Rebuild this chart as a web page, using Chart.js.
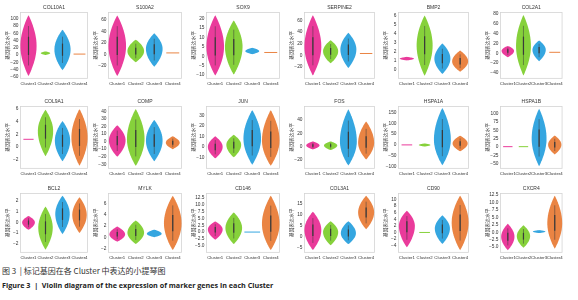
<!DOCTYPE html>
<html>
<head>
<meta charset="utf-8">
<script src="https://cdn.jsdelivr.net/npm/chart.js@4.4.1/dist/chart.umd.min.js"></script>
<style>
  body { margin: 0; background: #fff; width: 578px; height: 300px; position: relative; overflow: hidden; }
  canvas { position: absolute; }
  .cap { position: absolute; left: 2px; white-space: nowrap; color: #333; }
  .zh { top: 265px; font: 8px "Noto Sans CJK SC", sans-serif; }
  .en { top: 280px; font: bold 7.2px "Open Sans", "Noto Sans", sans-serif; color: #222; }
</style>
</head>
<body>
<div class="cap zh">图 3 &nbsp;|&nbsp;标记基因在各 Cluster 中表达的小提琴图</div>
<div class="cap en">Figure 3 &nbsp;|&nbsp; Violin diagram of the expression of marker genes in each Cluster</div>
<script>
const genes = ['COL10A1', 'S100A2', 'SOX9', 'SERPINE2', 'BMP2', 'COL2A1',
  'COL9A1', 'COMP', 'JUN', 'FOS', 'HSPA1A', 'HSPA1B',
  'BCL2', 'MYLK', 'CD146', 'COL3A1', 'CD90', 'CXCR4']
const clusters = ['Cluster1', 'Cluster2', 'Cluster3', 'Cluster4']
const yLabel = '基因表达水平'

// axis ranges and tick values per gene
const yMin = [-66, -42, -12, -41, -1.05, -52, -3.5, -36, -21, -33, -110, -65, -2.85, -2.8, -7.6, -7.5, -6.2, -6.9]
const yMax = [119, 74, 23.5, 75, 6.4, 84, 6.5, 47, 39, 61, 180, 122, 2.75, 7.9, 14.3, 19.9, 12, 13.1]
const yTicks = [
  [-60, -40, -20, 0, 20, 40, 60, 80, 100],
  [-20, 0, 20, 40, 60],
  [-10, -5, 0, 5, 10, 15, 20],
  [-20, 0, 20, 40, 60],
  [0, 1, 2, 3, 4, 5, 6],
  [-40, -20, 0, 20, 40, 60, 80],
  [-2, 0, 2, 4, 6],
  [-30, -20, -10, 0, 10, 20, 30, 40],
  [-10, 0, 10, 20, 30],
  [-20, 0, 20, 40],
  [-100, -50, 0, 50, 100, 150],
  [-50, -25, 0, 25, 50, 75, 100],
  [-2, -1, 0, 1, 2],
  [-2, 0, 2, 4, 6],
  [-5, -2.5, 0, 2.5, 5, 7.5, 10, 12.5],
  [-5, 0, 5, 10, 15],
  [-4, -2, 0, 2, 4, 6, 8, 10],
  [-5, -2.5, 0, 2.5, 5, 7.5, 10, 12.5],
]

// violin extents: lowest value, densest value, highest value, per cluster
const lows = [
  [-58, 0, -42, 1], [-37, -13, -21, 1.5], [-10.2, -9.7, 1.1, 1.6], [-35, -14, -22, 2],
  [1.0, -0.7, -0.5, -0.25], [-8, -45, -16, 1.5],
  [1.1, -1.5, -2.3, -3], [-20, -32, -26, -10], [-11, -10, -17, -18], [-4, -5, -28, -19],
  [-3, -7, -93, -29], [0.5, 0.5, -57, -22],
  [-0.7, -2.55, -1.1, -1], [-0.8, -1.2, 0, -2.3], [-2.8, -4.4, -0.05, -6.6], [-6.2, -4, -3.5, 3.3],
  [-4.5, -0.05, -3.5, -5.4], [-6, -5.2, -0.3, -5.5],
]
const mids = [
  [25, 5, 15, 2.5], [15, 6, 10, 3], [5, 5, 2.7, 2], [15, 7, 10, 3],
  [1.2, 2.7, 1.2, 0.9], [5, 15, 7, 2],
  [1.2, 2.5, 1, 1.5], [1.5, 3.5, 1.5, -1.5], [0, 2, 8, 6], [2, 2, 8, 6],
  [0, 0, 25, 7], [1, 1, 25, 7],
  [0, -0.5, 0.8, 0.7], [0.5, 0.8, 0.6, 2.5], [1, 1.5, 0, 3], [3, 2, 1.5, 11],
  [2, 0, 1.2, 3], [-1.5, -1.3, 0.2, 3],
]
const highs = [
  [110, 10, 70, 4], [68, 26, 37, 4.5], [21.8, 19, 4.5, 2.4], [69.5, 26, 39, 4],
  [1.4, 6.0, 2.9, 2.1], [15, 78, 26, 2.5],
  [1.3, 5.9, 4.1, 6], [21.5, 43, 28.6, 7], [10, 11.5, 35, 35], [8, 8, 56, 38],
  [4, 7, 171, 43], [1.5, 1.5, 114, 34],
  [0.6, 1.48, 2.5, 2.35], [1.9, 3, 1.35, 7.4], [3.9, 7.2, 0.05, 13.3], [11.3, 7, 7, 18.6],
  [6.6, 0.05, 5.2, 11.2], [2.8, 2.3, 0.7, 12.2],
]
// relative density peak (share of the category slot)
const widths = [
  [0.95, 0.55, 0.95, 0.7], [0.95, 0.9, 0.9, 0.7], [0.95, 0.95, 0.75, 0.7], [0.95, 0.85, 0.9, 0.7],
  [0.8, 0.9, 0.9, 0.9], [0.8, 0.95, 0.85, 0.7],
  [0.6, 0.9, 0.9, 0.95], [0.9, 0.95, 0.9, 0.75], [0.8, 0.8, 0.95, 0.95], [0.75, 0.75, 0.95, 0.9],
  [0.6, 0.65, 0.95, 0.85], [0.6, 0.6, 0.95, 0.85],
  [0.75, 0.85, 0.85, 0.85], [0.85, 0.9, 0.8, 0.95], [0.8, 0.9, 0.85, 0.95], [0.95, 0.85, 0.85, 0.9],
  [0.9, 0.6, 0.85, 0.95], [0.85, 0.85, 0.8, 0.95],
]
const colors = ['#ea3b9b', '#86d13b', '#35a6e0', '#ea8443']

const FONT = '"Liberation Sans", "Noto Sans CJK SC", sans-serif'
// panel grid: plot box edges per column, canvas rows
const boxLeft = [20, 108, 206, 304, 398, 500]
const boxRight = [88, 182, 280, 375, 469, 563]
const rowTop = [0, 92, 182]
const rowPadTop = [12, 14, 11]
const rowH = [88, 86, 80]
const AXIS_W = 15

const violinPlugin = {
  id: 'violin',
  beforeDatasetsDraw(chart) {
    const { ctx, chartArea: a } = chart
    const x = chart.scales.x
    const y = chart.scales.y
    const ds = chart.data.datasets[0]
    ctx.save()
    ctx.strokeStyle = '#d4d4d4'
    ctx.lineWidth = 0.8
    ctx.strokeRect(a.left + 0.5, a.top + 0.5, a.width - 1, a.height - 1)
    ctx.fillStyle = '#333'
    ctx.font = '5px ' + FONT
    ctx.textAlign = 'center'
    ctx.textBaseline = 'middle'
    ctx.fillText(ds.gene, (a.left + a.right) / 2, a.top - 4)
    const slot = x.getPixelForValue(1) - x.getPixelForValue(0)
    ds.data.forEach((r, i) => {
      const lo = r[0], hi = r[1], mid = ds.mids[i]
      const cx = x.getPixelForValue(i)
      const half = ds.widths[i] * slot / 2
      const top = y.getPixelForValue(hi), bot = y.getPixelForValue(lo)
      ctx.fillStyle = ds.colors[i]
      ctx.strokeStyle = ds.colors[i]
      if (bot - top < 2) {
        ctx.lineWidth = 1
        ctx.beginPath()
        ctx.moveTo(cx - half, (top + bot) / 2)
        ctx.lineTo(cx + half, (top + bot) / 2)
        ctx.stroke()
        return
      }
      const n = 48
      const pts = []
      for (let k = 0; k <= n; k++) {
        const v = lo + (hi - lo) * k / n
        const s = v < mid ? (v - lo) / (mid - lo) : (hi - v) / (hi - mid)
        const f = Math.pow(Math.sin(Math.max(0, Math.min(1, s)) * Math.PI / 2), 0.9)
        pts.push([half * f, y.getPixelForValue(v)])
      }
      ctx.beginPath()
      pts.forEach(([w, py], k) => k ? ctx.lineTo(cx + w, py) : ctx.moveTo(cx + w, py))
      for (let k = pts.length - 1; k >= 0; k--) ctx.lineTo(cx - pts[k][0], pts[k][1])
      ctx.closePath()
      ctx.fill()
      if (bot - top > 8) {
        ctx.strokeStyle = '#3a3a3a'
        ctx.lineWidth = 0.5
        ctx.beginPath()
        ctx.moveTo(cx, y.getPixelForValue(mid + (hi - mid) * 0.65))
        ctx.lineTo(cx, y.getPixelForValue(mid - (mid - lo) * 0.65))
        ctx.stroke()
        ctx.lineWidth = 1.2
        ctx.beginPath()
        ctx.moveTo(cx, y.getPixelForValue(mid + (hi - mid) * 0.3))
        ctx.lineTo(cx, y.getPixelForValue(mid - (mid - lo) * 0.3))
        ctx.stroke()
      }
    })
    ctx.restore()
  },
}

const fmt = (step) => (v) => {
  const s = step % 1 ? v.toFixed(1) : String(v)
  return s.replace('-', '−')
}

genes.forEach((gene, g) => {
  const row = Math.floor(g / 6), col = g % 6
  const cv = document.createElement('canvas')
  const left = boxLeft[col] - AXIS_W
  cv.width = boxRight[col] - left + 2
  cv.height = rowH[row]
  cv.style.left = left + 'px'
  cv.style.top = rowTop[row] + 'px'
  document.body.appendChild(cv)
  const ticks = yTicks[g]
  const step = ticks[1] - ticks[0]

  new Chart(cv.getContext('2d'), {
    type: 'bar',
    data: {
      labels: clusters,
      datasets: [{
        data: lows[g].map((lo, i) => [lo, highs[g][i]]),
        gene: gene,
        mids: mids[g],
        widths: widths[g],
        colors: colors,
        backgroundColor: 'rgba(0,0,0,0)',
      }],
    },
    plugins: [violinPlugin],
    options: {
      responsive: false,
      animation: false,
      devicePixelRatio: 1,
      layout: { padding: { top: rowPadTop[row], right: 2, left: 0, bottom: 0 } },
      plugins: {
        legend: { display: false },
        tooltip: { enabled: false },
        title: { display: false },
      },
      scales: {
        x: {
          grid: { display: false, drawTicks: false },
          border: { display: false },
          ticks: {
            color: '#333',
            font: { size: 4.3, family: FONT },
            autoSkip: false,
            maxRotation: 0,
            padding: 2,
          },
        },
        y: {
          min: yMin[g],
          max: yMax[g],
          grid: { display: false, drawTicks: false },
          border: { display: false },
          afterBuildTicks: (scale) => { scale.ticks = ticks.map((v) => ({ value: v })) },
          afterFit: (scale) => { scale.width = AXIS_W },
          ticks: {
            color: '#333',
            font: { size: 4.8, family: FONT },
            padding: 1.5,
            autoSkip: false,
            callback: fmt(step),
          },
          title: {
            display: true,
            text: yLabel,
            color: '#333',
            font: { size: 4.8, family: FONT },
            padding: 0,
          },
        },
      },
    },
  })
})
</script>
</body>
</html>
